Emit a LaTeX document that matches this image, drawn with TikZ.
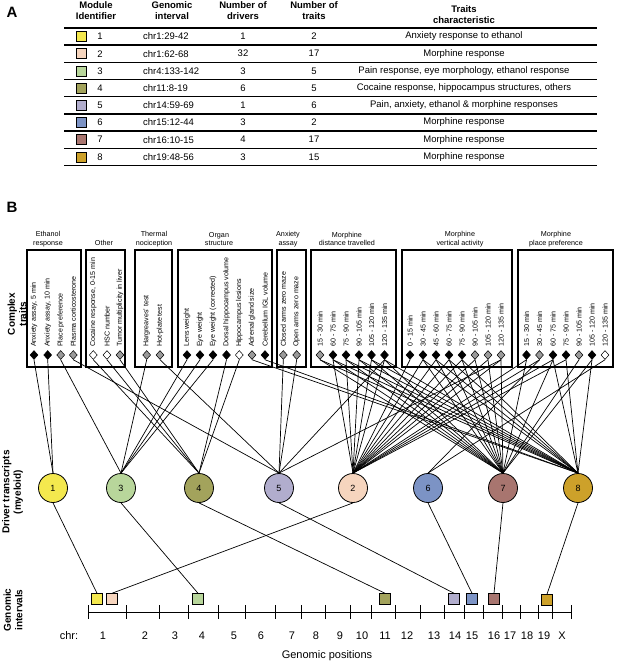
\documentclass[tikz,border=0pt]{standalone}
\usepackage{fontspec}
\setmainfont{Liberation Sans}
\usetikzlibrary{shapes.geometric}
\definecolor{mA}{HTML}{F4E84E}
\definecolor{mB}{HTML}{F6D5BE}
\definecolor{mC}{HTML}{B8D69B}
\definecolor{mD}{HTML}{A3A35C}
\definecolor{mE}{HTML}{B1ADCD}
\definecolor{mF}{HTML}{7C93C5}
\definecolor{mG}{HTML}{A8756F}
\definecolor{mH}{HTML}{CDA12A}
\definecolor{dgray}{HTML}{9A9A9A}
\tikzset{
 hdr/.style={font=\bfseries\fontsize{9.5}{11}\selectfont, align=center, inner sep=0},
 cell/.style={font=\fontsize{9.5}{11}\selectfont, inner sep=0},
 trait/.style={font=\fontsize{7.1}{8}\selectfont, rotate=90, anchor=west, inner sep=0},
 cat/.style={font=\fontsize{7.2}{8.6}\selectfont, align=center, inner sep=0},
 tbox/.style={draw, line width=1.2pt},
 dia/.style={diamond, draw, line width=0.5pt, inner sep=0, minimum width=8pt, minimum height=9pt},
 blk/.style={dia, fill=black},
 gry/.style={dia, fill=dgray},
 wht/.style={dia, fill=white},
 mod/.style={circle, draw, line width=0.8pt, minimum size=29pt, inner sep=0, font=\fontsize{9}{10}\selectfont},
 gsq/.style={draw, line width=1pt, minimum size=10.5pt, inner sep=0},
 tsq/.style={draw, line width=0.8pt, minimum size=10pt, inner sep=0},
 link/.style={line width=0.7pt},
 side/.style={font=\bfseries\fontsize{10}{11.5}\selectfont, rotate=90, align=center, inner sep=0},
 axl/.style={font=\fontsize{11}{12}\selectfont, inner sep=0},
 panel/.style={font=\bfseries\fontsize{15}{16}\selectfont, inner sep=0},
}
\begin{document}
\begin{tikzpicture}[x=1pt,y=-1pt]
\useasboundingbox (0,0) rectangle (617,662);
% ---------- Panel A ----------
\node[panel] (A) at (12,12) {A};
\node[hdr] (h1) at (96,10.5) {Module\\Identifier};
\node[hdr] (h2) at (172,10.5) {Genomic\\interval};
\node[hdr] (h3) at (243,10.5) {Number of\\drivers};
\node[hdr] (h4) at (314,10.5) {Number of\\traits};
\node[hdr] (h5) at (464,14.5) {Traits\\characteristic};
\draw[line width=2pt] (64,28) -- (597,28);
\foreach \k/\col/\chr/\nd/\nt/\desc in {
 1/mA/chr1:29-42/1/2/{Anxiety response to ethanol},
 2/mB/chr1:62-68/32/17/{Morphine response},
 3/mC/chr4:133-142/3/5/{Pain response, eye morphology, ethanol response},
 4/mD/chr11:8-19/6/5/{Cocaine response, hippocampus structures, others},
 5/mE/chr14:59-69/1/6/{Pain, anxiety, ethanol \& morphine responses},
 6/mF/chr15:12-44/3/2/{Morphine response},
 7/mG/chr16:10-15/4/17/{Morphine response},
 8/mH/chr19:48-56/3/15/{Morphine response}}{
 \pgfmathsetmacro\yy{36.5+(\k-1)*17.2}
 \node[tsq, fill=\col] (ts\k) at (81,\yy) {};
 \node[cell] (tn\k) at (100,\yy) {\k};
 \node[cell, anchor=west] (tc\k) at (143,\yy) {\chr};
 \node[cell] (td\k) at (243,\yy) {\nd};
 \node[cell] (tt\k) at (314,\yy) {\nt};
 \node[cell] (tx\k) at (464,\yy) {\desc};
 \draw[line width=1.3pt] (64,{45.1+(\k-1)*17.2}) -- (597,{45.1+(\k-1)*17.2});
}
% ---------- Panel B ----------
\node[panel] (B) at (12,207) {B};
\node[side] (s1) at (17,314) {Complex\\traits};
\node[side] (s2) at (12.5,492) {Driver transcripts\\(myeloid)};
\node[side] (s3) at (13,610) {Genomic\\intervals};
% categories
\node[cat] (L1) at (48,239) {Ethanol\\response};
\node[cat] (L2) at (104,243) {Other};
\node[cat] (L3) at (154,239) {Thermal\\nociception};
\node[cat] (L4) at (219,239) {Organ\\structure};
\node[cat] (L5) at (288,239) {Anxiety\\assay};
\node[cat] (L6) at (347,239) {Morphine\\distance travelled};
\node[cat] (L7) at (460,239) {Morphine\\vertical activity};
\node[cat] (L8) at (556,239) {Morphine\\place preference};
% boxes
\draw[tbox] (27,250) rectangle (81,367);
\draw[tbox] (86,250) rectangle (125,367);
\draw[tbox] (135,250) rectangle (172,367);
\draw[tbox] (178,250) rectangle (272,367);
\draw[tbox] (277,250) rectangle (306,367);
\draw[tbox] (311,250) rectangle (396,367);
\draw[tbox] (402,250) rectangle (512,367);
\draw[tbox] (518,250) rectangle (613,367);
% traits and diamonds
\foreach \n/\x/\s/\t in {
 e1/34/blk/{Anxiety assay, 5 min}, e2/47.7/blk/{Anxiety assay, 10 min}, e3/60.7/gry/{Place preference}, e4/73.3/gry/{Plasma corticosterone},
 o1/93.3/wht/{Cocaine response, 0-15 min}, o2/107/wht/{HSC number}, o3/120/gry/{Tumor multiplicity in liver},
 h1/146.7/gry/{Hargreaves' test}, h2/160/gry/{Hot-plate test},
 g1/187/blk/{Lens weight}, g2/200/blk/{Eye weight}, g3/213/blk/{Eye weight (corrected)}, g4/226.5/blk/{Dorsal hippocampus volume}, g5/239.3/wht/{Hippocampus lesions}, g6/252/gry/{Adrenal gland size}, g7/265/blk/{Cerebellum IGL volume},
 a1/283.3/gry/{Closed arms zero maze}, a2/296.7/gry/{Open arms zero maze},
 m1/320/gry/{15 - 30 min}, m2/333/blk/{60 - 75 min}, m3/346/blk/{75 - 90 min}, m4/359/blk/{90 - 105 min}, m5/371.5/blk/{105 - 120 min}, m6/384.5/blk/{120 - 135 min},
 v1/410/blk/{0 - 15 min}, v2/423/blk/{30 - 45 min}, v3/436/blk/{45 - 60 min}, v4/449/blk/{60 - 75 min}, v5/462/blk/{75 - 90 min}, v6/475/gry/{90 - 105 min}, v7/488/gry/{105 - 120 min}, v8/501/gry/{120 - 135 min},
 p1/526.5/blk/{15 - 30 min}, p2/539.5/gry/{30 - 45 min}, p3/553/blk/{60 - 75 min}, p4/566/blk/{75 - 90 min}, p5/579/gry/{90 - 105 min}, p6/592/blk/{105 - 120 min}, p7/605/wht/{120 - 135 min}}{
 \node[trait] (t\n) at (\x,347) {\t};
 \node[\s] (\n) at (\x,355) {};
}
% modules
\node[mod, fill=mA] (c1) at (53,488) {1};
\node[mod, fill=mC] (c3) at (121,488) {3};
\node[mod, fill=mD] (c4) at (199,488) {4};
\node[mod, fill=mE] (c5) at (279,488) {5};
\node[mod, fill=mB] (c2) at (353,488) {2};
\node[mod, fill=mF] (c6) at (428,488) {6};
\node[mod, fill=mG] (c7) at (503,488) {7};
\node[mod, fill=mH] (c8) at (578,488) {8};
% trait links
\foreach \d/\c in {e1/c1, e2/c1,
 e3/c3, h1/c3, g1/c3, g2/c3, g3/c3,
 o1/c4, o2/c4, o3/c4, g4/c4, g5/c4,
 e4/c5, h2/c5, a1/c5, a2/c5, m6/c5, v8/c5,
 m2/c2, m3/c2, m4/c2, m5/c2, m6/c2, v1/c2, v2/c2, v3/c2, v4/c2, v5/c2, v6/c2, v7/c2, v8/c2, p1/c2, p2/c2, p3/c2, p4/c2,
 p2/c6, p7/c6,
 m1/c7, m2/c7, m3/c7, m4/c7, m5/c7, m6/c7, v2/c7, v3/c7, v4/c7, v5/c7, v6/c7, v7/c7, v8/c7, p1/c7, p3/c7, p5/c7, p6/c7,
 g6/c8, g7/c8, m1/c8, m2/c8, m3/c8, m4/c8, m5/c8, m6/c8, v2/c8, v3/c8, v4/c8, v5/c8, p3/c8, p4/c8, p6/c8}{
 \draw[link] (\d.south) -- (\c.north);
}
% genomic intervals
\node[gsq, fill=mA] (q1) at (97,599) {};
\node[gsq, fill=mB] (q2) at (112,599) {};
\node[gsq, fill=mC] (q3) at (198,599) {};
\node[gsq, fill=mD] (q4) at (385,599) {};
\node[gsq, fill=mE] (q5) at (454,599) {};
\node[gsq, fill=mF] (q6) at (472,599) {};
\node[gsq, fill=mG] (q7) at (494,599) {};
\node[gsq, fill=mH] (q8) at (547,600) {};
\foreach \i in {1,...,8}{ \draw[link] (c\i.south) -- (q\i.north); }
% axis
\draw[line width=1pt] (88,612) -- (571,612);
\foreach \x in {88,126.4,159.6,188,218.4,245.2,275.2,301.2,325.2,350.8,371.2,395.6,420.4,444,464,483.2,502.4,520.8,538.4,552,571.2}{
 \draw[line width=0.8pt] (\x,605) -- (\x,619);
}
\node[axl] (chr) at (69,636) {chr:};
\foreach \x/\l in {103/1,145/2,175/3,202/4,234/5,261/6,292/7,316/8,340/9,362/10,385/11,407/12,434/13,455/14,472/15,494/16,510/17,527/18,544/19,562/X}{
 \node[axl] (x\l) at (\x,636) {\l};
}
\node[axl] (gp) at (327,656) {Genomic positions};
\end{tikzpicture}
\end{document}
